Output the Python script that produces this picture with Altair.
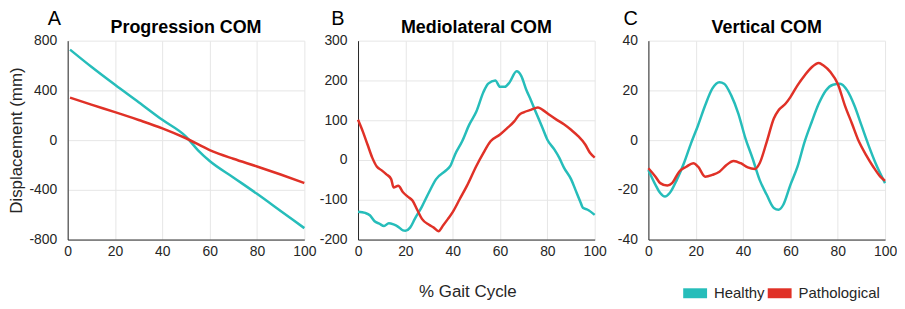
import altair as alt
import pandas as pd

TEAL = "#26BDBA"
RED = "#E03127"
FONT = "Liberation Sans"

groups = ["Healthy", "Pathological"]
panel_letters = ["A", "B", "C"]
panel_titles = ["Progression COM", "Mediolateral COM", "Vertical COM"]

# Panel A - Progression COM
a_h_x = [1, 10, 20, 30, 40, 50, 55, 60, 70, 80, 90, 100]
a_h_y = [728, 590, 445, 305, 163, 28, -80, -168, -300, -432, -570, -708]
a_p_x = [1, 10, 20, 30, 40, 50, 60, 70, 80, 90, 100]
a_p_y = [342, 285, 225, 162, 95, 15, -80, -150, -212, -277, -345]

# Panel B - Mediolateral COM
b_h_x = [0, 3, 5, 7, 9, 11, 13, 15, 17, 19, 20, 22, 24, 27, 30, 33, 37, 39, 41, 44, 47,
         50, 53, 55, 58, 60, 62, 64, 67, 69, 71, 73, 75, 78, 80, 83, 85, 87, 90, 92, 94,
         95, 97, 100]
b_h_y = [-130, -133, -139, -154, -160, -166, -159, -162, -168, -177, -178, -170, -148,
         -117, -81, -48, -27, -15, 14, 47, 89, 122, 171, 192, 200, 184, 184, 195, 223,
         211, 178, 151, 122, 80, 51, 26, 6, -19, -48, -77, -106, -120, -125, -138]
b_p_x = [0, 2, 4, 6, 8, 10, 12, 14, 15, 17, 19, 21, 23, 25, 27, 30, 32, 34, 36, 38, 40,
         43, 46, 50, 53, 56, 60, 63, 66, 68, 70, 73, 76, 78, 81, 84, 87, 90, 93, 96, 98,
         100]
b_p_y = [101, 72, 39, 6, -17, -26, -36, -48, -69, -65, -81, -92, -102, -125, -148, -163,
         -170, -179, -164, -148, -131, -98, -65, -15, 18, 47, 64, 80, 97, 113, 120, 126,
         132, 126, 113, 101, 90, 76, 60, 39, 18, 6]

# Panel C - Vertical COM
c_h_x = [0, 3, 5, 7, 9, 12, 15, 18, 21, 24, 27, 30, 32, 35, 38, 41, 44, 47, 50, 53, 55,
         57, 60, 63, 66, 69, 72, 75, 78, 81, 84, 87, 90, 93, 96, 100]
c_h_y = [-12, -18, -21.3, -22.7, -21.3, -16, -9.3, -1.3, 6, 14, 20.7, 23.3, 22.7, 18,
         10.7, 0.7, -7.3, -16, -22, -27.3, -28, -26, -18, -10.7, -0.7, 7.3, 14.7, 20,
         22.3, 22.7, 20, 14, 6, -2, -9.3, -17.3]
c_p_x = [0, 3, 5, 8, 10, 13, 16, 19, 21, 24, 27, 30, 33, 36, 39, 42, 45, 47, 50, 53, 55,
         58, 60, 63, 66, 69, 72, 74, 77, 80, 83, 86, 89, 92, 95, 98, 100]
c_p_y = [-11.3, -14.7, -17.3, -18.3, -17.3, -12.7, -10.7, -9.3, -10.7, -14.7, -14, -12.7,
         -10, -8.4, -9.3, -11, -11.6, -9.3, -0.7, 8.7, 12, 14.7, 17.3, 22, 26, 29.3, 31,
         30, 27.3, 22.7, 14, 6.7, -0.7, -6, -10.7, -14.7, -16.4]

x_ticks = [0, 20, 40, 60, 80, 100]
y_ticks = [
    [-800, -400, 0, 400, 800],
    [-200, -100, 0, 100, 200, 300],
    [-40, -20, 0, 20, 40],
]
letter_dx = [-20, -27, -25]
W, H = 238, 200

panels_data = [
    (a_h_x, a_h_y, a_p_x, a_p_y),
    (b_h_x, b_h_y, b_p_x, b_p_y),
    (c_h_x, c_h_y, c_p_x, c_p_y),
]

color_scale = alt.Scale(domain=groups, range=[TEAL, RED])

charts = []
for i, (hx, hy, px, py) in enumerate(panels_data):
    df = pd.concat([
        pd.DataFrame({"gait": hx, "disp": hy, "group": groups[0]}),
        pd.DataFrame({"gait": px, "disp": py, "group": groups[1]}),
    ], ignore_index=True)

    if i == 1:
        x_axis = alt.Axis(
            values=x_ticks, title="% Gait Cycle", labelExpr="'' + datum.value",
            titleX=110, titleY=57, titleAlign="center", titleBaseline="alphabetic",
            titleFontSize=17, titleFontWeight="normal",
        )
    else:
        x_axis = alt.Axis(values=x_ticks, title=None, labelExpr="'' + datum.value")
    if i == 0:
        y_axis = alt.Axis(
            values=y_ticks[i], labelExpr="'' + datum.value", title="Displacement (mm)",
            titleX=-42, titleFontSize=17, titleFontWeight="normal",
        )
    else:
        y_axis = alt.Axis(values=y_ticks[i], title=None, labelExpr="'' + datum.value")

    if i == 2:
        legend = alt.Legend(
            title=None, orient="none", legendX=30, legendY=237, direction="horizontal",
            symbolType="stroke", symbolSize=576, symbolStrokeWidth=10,
            labelFont=FONT, labelFontSize=15, labelColor="#262626", labelOffset=2,
            columnPadding=-17, padding=0, gridAlign="none",
        )
    else:
        legend = None

    lines = alt.Chart(df).mark_line(strokeWidth=2.5, interpolate="monotone").encode(
        x=alt.X("gait:Q", scale=alt.Scale(domain=[0, 100], nice=False), axis=x_axis),
        y=alt.Y("disp:Q", scale=alt.Scale(domain=[y_ticks[i][0], y_ticks[i][-1]], nice=False),
                axis=y_axis),
        color=alt.Color("group:N", scale=color_scale, sort=groups, legend=legend),
    )
    label_df = pd.DataFrame({"letter": [panel_letters[i]], "title": [panel_titles[i]]})
    letter = alt.Chart(label_df).mark_text(
        font=FONT, fontSize=20, align="left", baseline="alphabetic", color="#000000",
    ).encode(x=alt.value(letter_dx[i]), y=alt.value(-16), text="letter:N")
    title = alt.Chart(label_df).mark_text(
        font=FONT, fontSize=18, fontWeight="bold", align="center", baseline="alphabetic",
        color="#000000",
    ).encode(x=alt.value(W / 2), y=alt.value(-8), text="title:N")

    panel = alt.layer(lines, letter, title).properties(width=W, height=H)
    charts.append(panel)

chart = alt.hconcat(*charts, spacing=54, bounds="flush").resolve_scale(
    color="independent"
).properties(
    padding={"left": 0, "top": 0, "right": 0, "bottom": 0},
).configure_view(stroke=None).configure_axis(
    labelFont=FONT, titleFont=FONT, labelFontSize=14, labelColor="#262626",
    titleColor="#262626", domainColor="#262626", domainWidth=1, ticks=False,
    gridColor="#e6e6e6", gridWidth=1, labelFlush=False,
).configure_axisX(labelPadding=5).configure_axisY(labelPadding=11)

chart.save("out.html", embed_options={"renderer": "svg", "actions": False})
